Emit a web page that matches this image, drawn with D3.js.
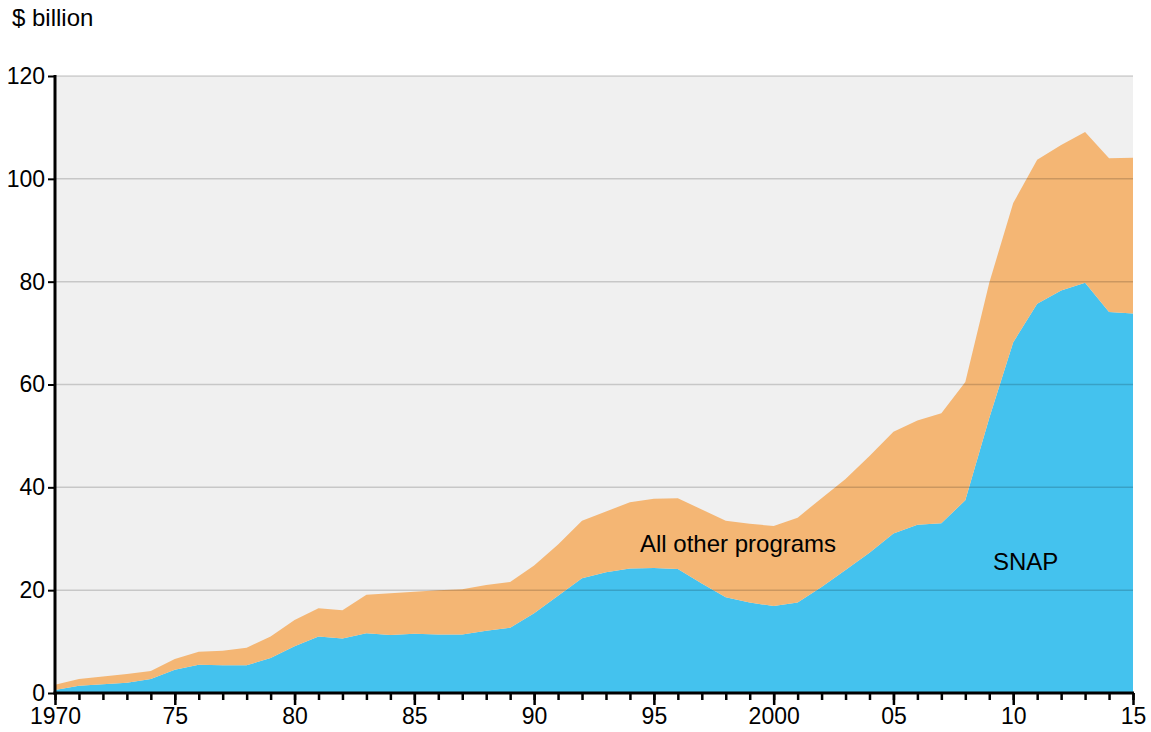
<!DOCTYPE html>
<html lang="en">
<head>
<meta charset="utf-8">
<title>SNAP and all other programs</title>
<script src="https://cdn.jsdelivr.net/npm/d3@7"></script>
<style>
  body { margin: 0; background: #fff; }
  text { font-family: "Liberation Sans", Arial, Helvetica, sans-serif; fill: #000; }
</style>
</head>
<body>
<script>
// values, $ billion
var years = d3.range(1970, 2016);
var snap = [0.6, 1.4, 1.7, 2.0, 2.7, 4.5, 5.5, 5.4, 5.4, 6.8,
            9.1, 11.0, 10.6, 11.6, 11.3, 11.5, 11.4, 11.4, 12.1, 12.7,
            15.5, 18.9, 22.3, 23.5, 24.2, 24.3, 24.1, 21.3, 18.6, 17.6,
            16.9, 17.6, 20.6, 23.9, 27.3, 31.0, 32.7, 33.0, 37.5, 53.5,
            68.2, 75.7, 78.3, 79.8, 74.1, 73.8];
var allOther = [1.0, 1.3, 1.5, 1.7, 1.6, 2.1, 2.5, 2.8, 3.4, 4.2,
                5.1, 5.5, 5.5, 7.5, 8.1, 8.2, 8.6, 8.8, 8.9, 8.9,
                9.3, 10.0, 11.2, 11.8, 12.9, 13.5, 13.8, 14.4, 14.9, 15.3,
                15.6, 16.5, 17.3, 17.7, 18.8, 19.8, 20.3, 21.4, 23.0, 26.3,
                27.1, 28.0, 28.3, 29.3, 29.9, 30.3];
var yTicks = [0, 20, 40, 60, 80, 100, 120];
var xMajor = [1970, 1975, 1980, 1985, 1990, 1995, 2000, 2005, 2010, 2015];
var xLabels = ["1970", "75", "80", "85", "90", "95", "2000", "05", "10", "15"];

var W = 1151, H = 732;
var margin = {left: 55, right: 1133, top: 76, bottom: 693};

var svg = d3.select("body").append("svg")
    .attr("width", W)
    .attr("height", H);

var x = d3.scaleLinear().domain([1970, 2015]).range([margin.left, margin.right]);
var y = d3.scaleLinear().domain([0, 120]).range([margin.bottom, margin.top]);

var rows = years.map(function(yr, i) {
  return {year: yr, snap: snap[i], other: allOther[i]};
});
var stacked = d3.stack().keys(["snap", "other"])(rows);
var colors = {snap: "#44c2ee", other: "#f4b674"};

// plot background
svg.append("rect")
    .attr("x", margin.left).attr("y", margin.top)
    .attr("width", margin.right - margin.left)
    .attr("height", margin.bottom - margin.top)
    .attr("fill", "#f0f0f0");

var area = d3.area()
    .x(function(d) { return x(d.data.year); })
    .y0(function(d) { return y(d[0]); })
    .y1(function(d) { return y(d[1]); });

svg.selectAll("path.layer")
    .data(stacked)
    .enter()
    .append("path")
    .attr("class", "layer")
    .attr("d", area)
    .attr("fill", function(d) { return colors[d.key]; });

// gridlines sit on top of the areas
svg.selectAll("line.grid")
    .data(yTicks.filter(function(t) { return t > 0; }))
    .enter()
    .append("line")
    .attr("class", "grid")
    .attr("x1", margin.left).attr("x2", margin.right)
    .attr("y1", function(d) { return y(d); })
    .attr("y2", function(d) { return y(d); })
    .attr("stroke", "rgba(0,0,0,0.17)")
    .attr("stroke-width", 1.5);

// x axis: minor ticks every year, longer ticks every 5
var xMinor = d3.axisBottom(x).tickValues(years).tickSize(7).tickFormat("");
var gMinor = svg.append("g")
    .attr("transform", "translate(0," + margin.bottom + ")")
    .call(xMinor);
gMinor.select(".domain").remove();
gMinor.selectAll("line").attr("stroke", "#000").attr("stroke-width", 2.5);

var xAxis = d3.axisBottom(x)
    .tickValues(xMajor)
    .tickSize(12)
    .tickPadding(3)
    .tickFormat(function(d, i) { return xLabels[i]; });
var gx = svg.append("g")
    .attr("transform", "translate(0," + margin.bottom + ")")
    .call(xAxis);
gx.select(".domain").remove();
gx.selectAll("line").attr("stroke", "#000").attr("stroke-width", 2.5);
gx.selectAll("text")
    .attr("font-size", "23px")
    .attr("font-family", "Liberation Sans, Arial, sans-serif")
    .attr("fill", "#000");

var yAxis = d3.axisLeft(y)
    .tickValues(yTicks)
    .tickSize(7)
    .tickPadding(3);
var gy = svg.append("g")
    .attr("transform", "translate(" + margin.left + ",0)")
    .call(yAxis);
gy.select(".domain").remove();
gy.selectAll("line").attr("stroke", "#000").attr("stroke-width", 2);
gy.selectAll("text")
    .attr("font-size", "23px")
    .attr("font-family", "Liberation Sans, Arial, sans-serif")
    .attr("fill", "#000");

// axis lines
svg.append("line")
    .attr("x1", margin.left).attr("x2", margin.left)
    .attr("y1", margin.top - 1).attr("y2", margin.bottom + 1.5)
    .attr("stroke", "#000").attr("stroke-width", 3);
svg.append("line")
    .attr("x1", margin.left - 1.5).attr("x2", margin.right + 1)
    .attr("y1", margin.bottom).attr("y2", margin.bottom)
    .attr("stroke", "#000").attr("stroke-width", 3);

// unit label
svg.append("text")
    .attr("x", 12).attr("y", 26)
    .attr("font-size", "24px")
    .text("$ billion");

// series labels
svg.append("text")
    .attr("x", 640).attr("y", 552)
    .attr("font-size", "24px")
    .text("All other programs");
svg.append("text")
    .attr("x", 993).attr("y", 570)
    .attr("font-size", "24px")
    .text("SNAP");
</script>
</body>
</html>
